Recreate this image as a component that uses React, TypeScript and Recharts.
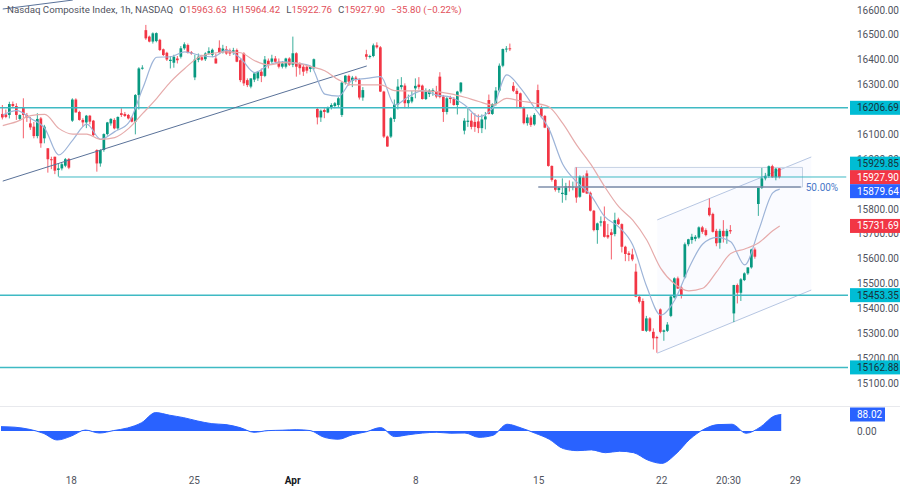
import React from "react";
import {
  Area,
  Bar,
  ComposedChart,
  Line,
  ReferenceArea,
  ReferenceLine,
  XAxis,
  YAxis,
} from "recharts";

// hourly candles, one entry per bar
const opens = [
  16182, 16180, 16178, 16222, 16214, 16162, 16208, 16178, 16144, 16131,
  16093, 16164, 16084, 16044, 16000, 16010, 15957, 15963, 15974, 16001,
  16155, 16240, 16190, 16158, 16148, 16175, 16155, 16037, 15983, 16037,
  16101, 16144, 16158, 16124, 16185, 16182, 16178, 16168, 16151, 16258,
  16365, 16519, 16493, 16473, 16475, 16480, 16442, 16428, 16395, 16388,
  16405, 16412, 16446, 16459, 16430, 16329, 16400, 16410, 16402, 16425,
  16420, 16405, 16448, 16430, 16442, 16438, 16432, 16439, 16398, 16425,
  16318, 16292, 16320, 16325, 16352, 16335, 16396, 16392, 16405, 16392,
  16372, 16372, 16405, 16380, 16426, 16386, 16372, 16372, 16363, 16366,
  16202, 16168, 16198, 16188, 16209, 16214, 16218, 16178, 16308, 16335,
  16315, 16328, 16319, 16248, 16422, 16412, 16415, 16458, 16450, 16272,
  16091, 16091, 16162, 16220, 16290, 16296, 16225, 16232, 16285, 16300,
  16296, 16242, 16262, 16270, 16272, 16332, 16252, 16190, 16248, 16242,
  16218, 16272, 16115, 16150, 16155, 16150, 16152, 16125, 16160, 16238,
  16182, 16222, 16276, 16376, 16443, 16446, 16295, 16275, 16265, 16209,
  16145, 16168, 16140, 16278, 16209, 16174, 16127, 15973, 15917, 15876,
  15860, 15856, 15892, 15888, 15889, 15849, 15927, 15943, 15865, 15793,
  15715, 15745, 15751, 15695, 15706, 15699, 15758, 15739, 15648, 15622,
  15617, 15548, 15447, 15430, 15310, 15360, 15306, 15285, 15396, 15306,
  15310, 15370, 15444, 15521, 15484, 15525, 15658, 15675, 15680, 15685,
  15726, 15715, 15805, 15780, 15712, 15664, 15712, 15690, 15715, 15380,
  15494, 15463, 15514, 15541, 15565, 15637, 15820, 15885, 15923, 15932,
  15972, 15927, 15963.63,
];
const highs = [
  16218, 16200, 16231, 16232, 16225, 16180, 16245, 16186, 16170, 16150,
  16185, 16170, 16138, 16044, 16010, 16010, 15983, 15985, 16005, 16005,
  16245, 16245, 16195, 16165, 16178, 16178, 16158, 16040, 16040, 16104,
  16150, 16165, 16165, 16172, 16205, 16190, 16182, 16172, 16262, 16370,
  16378, 16540, 16497, 16510, 16510, 16484, 16445, 16432, 16415, 16420,
  16415, 16455, 16470, 16465, 16435, 16420, 16425, 16420, 16430, 16450,
  16445, 16425, 16478, 16460, 16455, 16445, 16448, 16445, 16405, 16430,
  16325, 16325, 16345, 16355, 16365, 16415, 16405, 16420, 16415, 16405,
  16395, 16408, 16410, 16493, 16430, 16390, 16380, 16378, 16375, 16405,
  16208, 16200, 16205, 16212, 16225, 16230, 16250, 16310, 16338, 16340,
  16335, 16335, 16325, 16290, 16440, 16420, 16465, 16470, 16455, 16275,
  16095, 16170, 16240, 16322, 16330, 16305, 16260, 16275, 16325, 16330,
  16300, 16285, 16282, 16285, 16295, 16350, 16258, 16250, 16255, 16250,
  16275, 16310, 16165, 16205, 16185, 16185, 16180, 16180, 16190, 16260,
  16225, 16290, 16385, 16445, 16455, 16465, 16310, 16285, 16268, 16212,
  16180, 16175, 16185, 16300, 16215, 16178, 16130, 15975, 15920, 15890,
  15923, 15905, 15915, 15910, 15967, 15935, 15935, 15955, 15870, 15796,
  15745, 15770, 15810, 15740, 15720, 15785, 15765, 15742, 15652, 15630,
  15640, 15580, 15452, 15440, 15370, 15365, 15320, 15290, 15400, 15315,
  15345, 15450, 15525, 15528, 15490, 15665, 15680, 15700, 15695, 15730,
  15732, 15722, 15842, 15785, 15720, 15720, 15755, 15720, 15735, 15495,
  15500, 15522, 15545, 15565, 15640, 15645, 15885, 15965, 15945, 15975,
  15978, 15965, 15964.42,
];
const lows = [
  16160, 16165, 16164, 16208, 16158, 16155, 16084, 16150, 16118, 16084,
  16084, 16046, 16064, 15946, 15960, 15940, 15930, 15955, 15968, 15960,
  16150, 16188, 16155, 16130, 16125, 16140, 16092, 15950, 15970, 16030,
  16095, 16135, 16120, 16118, 16170, 16170, 16160, 16148, 16100, 16200,
  16360, 16480, 16470, 16465, 16470, 16435, 16415, 16395, 16365, 16368,
  16385, 16405, 16440, 16425, 16420, 16318, 16390, 16395, 16395, 16420,
  16410, 16385, 16425, 16425, 16420, 16415, 16420, 16390, 16310, 16295,
  16290, 16285, 16310, 16315, 16310, 16330, 16365, 16385, 16385, 16365,
  16365, 16365, 16375, 16370, 16332, 16340, 16335, 16345, 16350, 16360,
  16140, 16150, 16165, 16185, 16200, 16205, 16210, 16170, 16300, 16295,
  16290, 16310, 16240, 16235, 16400, 16405, 16410, 16445, 16270, 16085,
  16050, 16085, 16150, 16200, 16280, 16205, 16205, 16225, 16245, 16280,
  16240, 16238, 16250, 16255, 16245, 16245, 16150, 16180, 16225, 16215,
  16180, 16265, 16100, 16130, 16120, 16110, 16105, 16105, 16120, 16180,
  16178, 16215, 16270, 16370, 16430, 16435, 16270, 16205, 16205, 16140,
  16135, 16130, 16135, 16205, 16165, 16125, 15970, 15910, 15870, 15865,
  15825, 15835, 15870, 15875, 15825, 15845, 15865, 15860, 15790, 15710,
  15660, 15730, 15685, 15680, 15597, 15690, 15735, 15625, 15590, 15590,
  15590, 15445, 15420, 15310, 15305, 15305, 15235, 15222, 15300, 15270,
  15305, 15365, 15440, 15478, 15440, 15520, 15650, 15660, 15670, 15680,
  15700, 15690, 15770, 15705, 15650, 15640, 15665, 15660, 15700, 15345,
  15420, 15430, 15510, 15535, 15560, 15600, 15772, 15880, 15915, 15925,
  15925, 15915, 15922.76,
];
const closes = [
  16168, 16170, 16222, 16214, 16178, 16178, 16178, 16168, 16128, 16093,
  16162, 16064, 16131, 16000, 15998, 15954, 15963, 15980, 16000, 15966,
  16240, 16188, 16158, 16148, 16175, 16151, 16097, 15983, 16037, 16101,
  16148, 16162, 16124, 16170, 16178, 16174, 16164, 16151, 16258, 16365,
  16368, 16486, 16473, 16506, 16507, 16439, 16419, 16401, 16400, 16412,
  16398, 16446, 16462, 16428, 16425, 16401, 16412, 16400, 16425, 16435,
  16440, 16385, 16430, 16445, 16425, 16425, 16438, 16392, 16318, 16305,
  16298, 16325, 16345, 16352, 16335, 16401, 16379, 16405, 16392, 16372,
  16385, 16405, 16380, 16426, 16372, 16366, 16352, 16356, 16372, 16402,
  16168, 16195, 16190, 16209, 16218, 16225, 16245, 16308, 16336, 16312,
  16328, 16318, 16248, 16278, 16412, 16415, 16458, 16450, 16272, 16091,
  16051, 16165, 16220, 16292, 16298, 16225, 16238, 16250, 16295, 16290,
  16242, 16272, 16276, 16278, 16252, 16250, 16190, 16245, 16242, 16218,
  16272, 16308, 16155, 16155, 16130, 16130, 16125, 16160, 16172, 16182,
  16222, 16276, 16376, 16443, 16445, 16443, 16275, 16262, 16209, 16145,
  16168, 16138, 16178, 16209, 16172, 16127, 15973, 15917, 15877, 15886,
  15865, 15892, 15886, 15890, 15846, 15930, 15866, 15862, 15793, 15715,
  15742, 15750, 15688, 15686, 15695, 15755, 15739, 15648, 15619, 15615,
  15597, 15447, 15427, 15310, 15360, 15310, 15280, 15280, 15306, 15312,
  15335, 15448, 15521, 15480, 15450, 15658, 15678, 15688, 15688, 15726,
  15708, 15695, 15775, 15708, 15662, 15712, 15690, 15712, 15710, 15494,
  15463, 15517, 15541, 15565, 15637, 15608, 15885, 15923, 15932, 15972,
  15927, 15962, 15927.9,
];

// moving averages and the oscillator, read every 4th bar (the last entry is the last bar)
const maStep = 4;
const fastMa = [
  16178, 16195, 16164, 16124, 16017, 16077, 16141, 16080, 16111, 16147,
  16285, 16410, 16412, 16432, 16419, 16412, 16439, 16405, 16348, 16379,
  16392, 16386, 16375, 16262, 16254, 16319, 16325, 16332, 16218, 16252,
  16276, 16258, 16249, 16218, 16171, 16205, 16339, 16285, 16205, 16124,
  15980, 15909, 15856, 15769, 15728, 15655, 15487, 15373, 15434, 15561,
  15659, 15686, 15668, 15575, 15715, 15865, 15879.64,
];
const slowMa = [
  16135, 16151, 16175, 16180, 16124, 16101, 16101, 16080, 16087, 16124,
  16184, 16245, 16312, 16365, 16410, 16426, 16432, 16428, 16396, 16379,
  16388, 16386, 16372, 16356, 16319, 16299, 16299, 16299, 16276, 16275,
  16275, 16272, 16263, 16249, 16232, 16218, 16245, 16234, 16225, 16211,
  16144, 16057, 15980, 15889, 15809, 15755, 15675, 15561, 15498, 15471,
  15481, 15548, 15621, 15639, 15664, 15712, 15731.69,
];
const oscillator = [
  23, 20, 9, -12, -48, -27, 5, -11, 2, 16, 44, 98, 84, 71, 53, 39, 34, 18, -7, 2,
  4, 7, 2, -34, -44, -20, -4, 18, -30, -20, -11, -7, -12, -11, -34, -23, 36, 16,
  -12, -44, -94, -105, -101, -116, -108, -116, -155, -173, -123, -44, 9, 34, 36,
  -12, 20, 80, 88.02,
];

// price levels and drawn objects, in bars and prices
const hLevels = [16206.69, 15453.35, 15162.88];
const supportLine = { bars: [16, 241], price: 15928.5 };
const trendLow = { bars: [0, 104], prices: [15912, 16375] };
const trendHigh = { bars: [0, 20], prices: [16604, 16640] };
const channelBars = [187, 231];
const channelLow = [15220, 15474];
const channelHigh = [15756, 16009];
const fibBox = { bars: [164, 228], prices: [15888, 15967] };
const fibLine = { bars: [153, 228], price: 15888 };

const yTicks = [16600, 16500, 16400, 16300, 16100, 16000, 15800, 15700, 15600, 15500, 15400, 15300, 15200, 15100];
const xTickBars = [20, 55, 83, 118, 153, 188, 207, 226];
const xTickLabels = ["18", "25", "Apr", "8", "15", "22", "20:30", "29"];

const tags = [
  { price: 16206.69, fill: "#00bcd4", color: "#17323a", shift: 0 },
  { price: 15929.85, fill: "#00bcd4", color: "#17323a", shift: -13 },
  { price: 15927.9, fill: "#f23645", color: "#ffffff", shift: 0 },
  { price: 15879.64, fill: "#2962ff", color: "#ffffff", shift: 2 },
  { price: 15731.69, fill: "#f23645", color: "#ffffff", shift: 0 },
  { price: 15453.35, fill: "#00bcd4", color: "#17323a", shift: 0 },
  { price: 15162.88, fill: "#00bcd4", color: "#17323a", shift: 0 },
];

const rowCount = 242;
const lastBar = opens.length - 1;

const rows: any[] = [];
for (let i = 0; i < rowCount; i++) {
  const row: any = { bar: i };
  if (i <= lastBar) {
    row.open = opens[i];
    row.close = closes[i];
    row.range = [lows[i], highs[i]];
  }
  rows.push(row);
}
fastMa.forEach((v, k) => (rows[Math.min(k * maStep, lastBar)].fast = v));
slowMa.forEach((v, k) => (rows[Math.min(k * maStep, lastBar)].slow = v));
oscillator.forEach((v, k) => (rows[Math.min(k * maStep, lastBar)].osc = v));
channelBars.forEach((b, k) => (rows[b].channel = [channelLow[k], channelHigh[k]]));

const UP = "#089981";
const DOWN = "#f23645";
const TEAL = "#3fbac4";
const FONT = "Roboto, sans-serif";
const AXIS_TEXT = "#50535e";
const PRICE_DOMAIN = [15007.7, 16640.2];

function Candle(props: any) {
  const { x, y, width, height, payload } = props;
  if (!payload || payload.open === undefined) return null;
  const [low, high] = payload.range;
  const perUnit = height / (high - low);
  const top = y + (high - Math.max(payload.open, payload.close)) * perUnit;
  const bottom = y + (high - Math.min(payload.open, payload.close)) * perUnit;
  const color = payload.close >= payload.open ? UP : DOWN;
  const mid = x + width / 2;
  return (
    <g>
      <line x1={mid} x2={mid} y1={y} y2={y + height} stroke={color} strokeWidth={0.8} />
      <rect x={x} y={top} width={width} height={Math.max(bottom - top, 1)} fill={color} />
    </g>
  );
}

function priceTag(text: string, fill: string, color: string, shift: number, w = 50) {
  return ({ viewBox }: any) => {
    const left = viewBox.x + viewBox.width + 2;
    const mid = viewBox.y + shift;
    return (
      <g>
        <rect x={left} y={mid - 7} width={w} height={14} fill={fill} />
        <text x={left + 7} y={mid + 3.5} fontSize={10} fontFamily={FONT} fill={color}>
          {text}
        </text>
      </g>
    );
  };
}

function DateTick(props: any) {
  const { x, y, payload } = props;
  const label = xTickLabels[xTickBars.indexOf(payload.value)];
  return (
    <text x={x} y={y + 10} textAnchor="middle" fontSize={10} fontFamily={FONT} fill={label === "Apr" ? "#131722" : AXIS_TEXT} fontWeight={label === "Apr" ? 700 : 400}>
      {label}
    </text>
  );
}

function Header() {
  const val = { color: "#e2505a" };
  const gap = { marginLeft: 6 };
  return (
    <div style={{ position: "absolute", left: 7, top: 2, fontFamily: FONT, fontSize: 9.7, color: "#50535e", whiteSpace: "pre", lineHeight: "16px" }}>
      Nasdaq Composite Index, 1h, NASDAQ
      <span style={gap}>O</span><span style={val}>15963.63</span>
      <span style={gap}>H</span><span style={val}>15964.42</span>
      <span style={gap}>L</span><span style={val}>15922.76</span>
      <span style={gap}>C</span><span style={val}>15927.90</span>
      <span style={{ ...val, ...gap }}>−35.80 (−0.22%)</span>
    </div>
  );
}

export default function App() {
  return (
    <div style={{ position: "fixed", left: 0, top: 0, width: 900, height: 487, background: "#fff", overflow: "hidden" }}>
      <ComposedChart width={900} height={406} data={rows} margin={{ top: 0, right: 0, bottom: 0, left: 0 }} barCategoryGap={0}>
        <XAxis dataKey="bar" hide padding={{ left: 1, right: 0 }} />
        <YAxis
          orientation="right"
          width={52}
          domain={PRICE_DOMAIN}
          allowDataOverflow
          ticks={yTicks}
          interval={0}
          tickLine={false}
          axisLine={false}
          tickMargin={3}
          tick={{ fontSize: 10, fontFamily: FONT, fill: AXIS_TEXT, textAnchor: "start" }}
          tickFormatter={(v: number) => v.toFixed(2)}
        />

        <Area
          dataKey="channel"
          connectNulls
          type="linear"
          stroke="#b6c6e2"
          strokeWidth={1}
          fill="#2962ff"
          fillOpacity={0.025}
          dot={false}
          activeDot={false}
          isAnimationActive={false}
        />
        <ReferenceArea x1={fibBox.bars[0]} x2={fibBox.bars[1]} y1={fibBox.prices[0]} y2={fibBox.prices[1]} fill="#2962ff" fillOpacity={0.03} stroke="#c6d2e4" ifOverflow="visible" />

        {hLevels.map((p) => (
          <ReferenceLine key={p} y={p} stroke={TEAL} strokeWidth={1.5} />
        ))}
        <ReferenceLine
          segment={[
            { x: supportLine.bars[0], y: supportLine.price },
            { x: supportLine.bars[1], y: supportLine.price },
          ]}
          stroke={TEAL}
          strokeWidth={1}
        />
        <ReferenceLine
          segment={[
            { x: trendLow.bars[0], y: trendLow.prices[0] },
            { x: trendLow.bars[1], y: trendLow.prices[1] },
          ]}
          stroke="#5a7299"
          strokeWidth={1}
        />
        <ReferenceLine
          segment={[
            { x: trendHigh.bars[0], y: trendHigh.prices[0] },
            { x: trendHigh.bars[1], y: trendHigh.prices[1] },
          ]}
          stroke="#5a7299"
          strokeWidth={1}
        />
        <ReferenceLine
          segment={[
            { x: fibLine.bars[0], y: fibLine.price },
            { x: fibLine.bars[1], y: fibLine.price },
          ]}
          stroke="#7f8fab"
          strokeWidth={1.5}
          label={{ value: "50.00%", position: "right", fill: "#4a78c8", fontSize: 10, fontFamily: FONT }}
        />

        <Bar dataKey="range" barSize={2.7} shape={<Candle />} isAnimationActive={false} />
        <Line dataKey="fast" connectNulls type="monotone" stroke="#9db4d8" strokeWidth={1.2} dot={false} activeDot={false} isAnimationActive={false} />
        <Line dataKey="slow" connectNulls type="monotone" stroke="#e6abab" strokeWidth={1.2} dot={false} activeDot={false} isAnimationActive={false} />
      </ComposedChart>

      {/* price tags sit over the axis labels, so they get their own layer */}
      <div style={{ position: "absolute", left: 0, top: 0 }}>
        <ComposedChart width={900} height={406} data={rows} margin={{ top: 0, right: 52, bottom: 0, left: 0 }}>
          <XAxis dataKey="bar" hide padding={{ left: 1, right: 0 }} />
          <YAxis hide domain={PRICE_DOMAIN} allowDataOverflow />
          {tags.map((t) => (
            <ReferenceLine key={t.price} y={t.price} stroke="none" label={priceTag(t.price.toFixed(2), t.fill, t.color, t.shift)} />
          ))}
        </ComposedChart>
      </div>

      <div style={{ position: "absolute", left: 0, top: 406, width: 900, height: 81, borderTop: "1px solid #e8e9ed", boxSizing: "border-box" }}>
        <ComposedChart width={900} height={80} data={rows} margin={{ top: 0, right: 0, bottom: 0, left: 0 }}>
          <XAxis
            dataKey="bar"
            padding={{ left: 1, right: 0 }}
            ticks={xTickBars}
            interval={0}
            height={21}
            tickLine={false}
            axisLine={false}
            tick={<DateTick />}
          />
          <YAxis
            orientation="right"
            width={52}
            domain={[-187, 128]}
            allowDataOverflow
            ticks={[0]}
            tickLine={false}
            axisLine={false}
            tickMargin={3}
            tick={{ fontSize: 10, fontFamily: FONT, fill: AXIS_TEXT, textAnchor: "start" }}
            tickFormatter={(v: number) => v.toFixed(2)}
          />
          <Area dataKey="osc" connectNulls type="monotone" stroke="#2962ff" strokeWidth={1} fill="#2962ff" fillOpacity={1} dot={false} activeDot={false} baseValue={0} isAnimationActive={false} />
          <ReferenceLine y={88.02} stroke="none" label={priceTag("88.02", "#2962ff", "#ffffff", 0, 35)} />
        </ComposedChart>
      </div>

      <Header />
    </div>
  );
}
